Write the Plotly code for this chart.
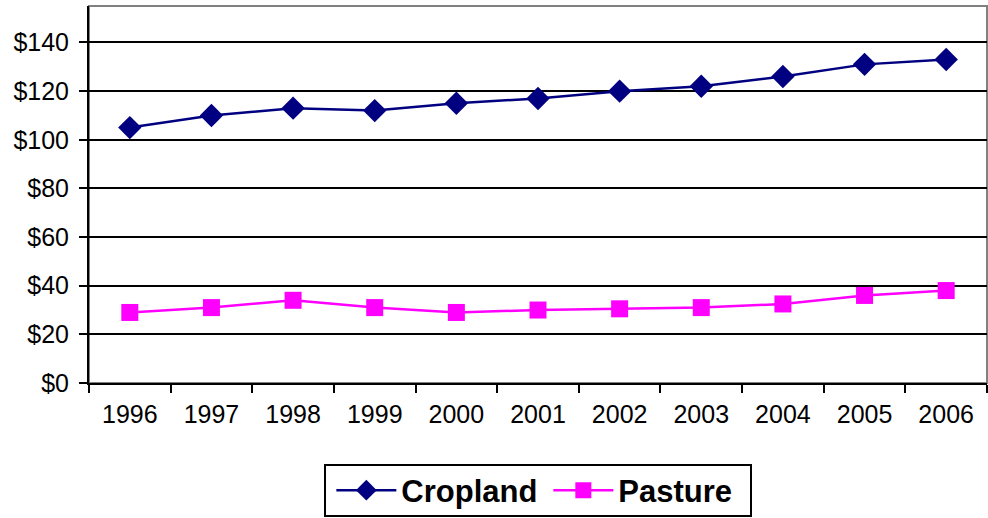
import plotly.graph_objects as go

years = ["1996", "1997", "1998", "1999", "2000", "2001", "2002", "2003", "2004", "2005", "2006"]
cropland = [105, 110, 113, 112, 115, 117, 120, 122, 126, 131, 133]
pasture = [29, 31, 34, 31, 29, 30, 30.5, 31, 32.5, 36, 38]
y_ticks = [0, 20, 40, 60, 80, 100, 120, 140]
y_labels = ["$0", "$20", "$40", "$60", "$80", "$100", "$120", "$140"]

W, H = 988, 518
ML, MR, MT, MB = 89, 1, 6, 135
PW, PH = W - ML - MR, H - MT - MB

fig = go.Figure()
fig.add_trace(go.Scatter(x=years, y=cropland, name="Cropland", mode="lines+markers",
                         line=dict(color="#000080", width=2.5),
                         marker=dict(symbol="diamond", size=18, color="#000080")))
fig.add_trace(go.Scatter(x=years, y=pasture, name="Pasture", mode="lines+markers",
                         line=dict(color="#FF00FF", width=2.5),
                         marker=dict(symbol="square", size=17, color="#FF00FF")))

fig.update_layout(
    width=W, height=H,
    margin=dict(l=ML, r=MR, t=MT, b=MB, autoexpand=False),
    paper_bgcolor="white", plot_bgcolor="white",
    font=dict(family="Liberation Sans, Arial, sans-serif", color="black", size=25),
    showlegend=True,
    legend=dict(orientation="h", x=0.555, xanchor="center", xref="container",
                y=(H - 490.5) / H, yanchor="middle", yref="container",
                borderwidth=0, itemwidth=60, entrywidth=142,
                font=dict(size=31, family="Liberation Sans, Arial, sans-serif", weight="bold"),
                bgcolor="rgba(0,0,0,0)"),
)
fig.update_xaxes(type="category", range=[-0.5, len(years) - 0.5], showgrid=False,
                 showline=True, linecolor="black", linewidth=2,
                 ticks="outside", tickson="boundaries", ticklen=8, tickwidth=2, tickcolor="black",
                 tickfont=dict(size=25), ticklabelstandoff=8, automargin=False, mirror=False)
fig.update_yaxes(range=[0, 155], tickvals=y_ticks, ticktext=y_labels, showgrid=True,
                 gridcolor="black", gridwidth=2, showline=True, linecolor="black", linewidth=2,
                 ticks="outside", ticklen=8, tickwidth=2, tickcolor="black",
                 tickfont=dict(size=25), ticklabelstandoff=5, automargin=False, zeroline=False)
# plot-area border (gray) and legend frame (black)
fig.add_shape(type="rect", xref="paper", yref="paper", x0=0, x1=1, y0=0, y1=1,
              line=dict(color="#808080", width=2), layer="below")
fig.add_shape(type="rect", xref="paper", yref="paper",
              x0=(325 - ML) / PW, x1=(751 - ML) / PW,
              y0=(H - MB - 516) / PH, y1=(H - MB - 465) / PH,
              line=dict(color="black", width=2), fillcolor="rgba(0,0,0,0)", layer="above")

fig.write_html("out.html", config={"displayModeBar": False},
               post_script="document.body.style.margin='0px';")
